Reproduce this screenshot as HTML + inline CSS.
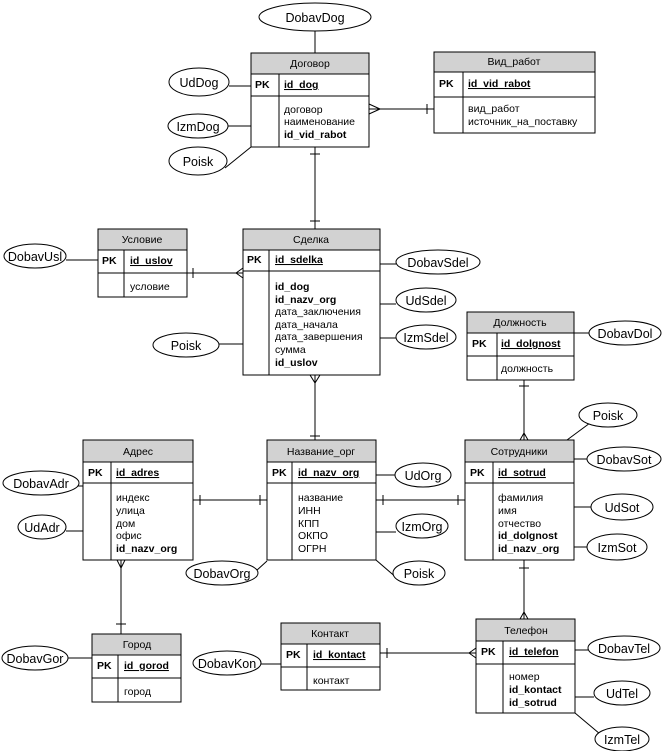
<!DOCTYPE html>
<html><head><meta charset="utf-8"><style>
html,body{margin:0;padding:0;background:#fff}
svg{display:block}
text{font-family:"Liberation Sans",sans-serif;font-size:10.5px;fill:#000}
.b{font-weight:bold}
.u{font-weight:bold;text-decoration:underline}
.h{text-anchor:middle;font-size:10.5px}
.e{text-anchor:middle;font-size:12.5px}
.ent rect{fill:#fff;stroke:#000;stroke-width:1}
.ent .hd{fill:#d2d2d2}
line,path,polyline{stroke:#000;stroke-width:1;fill:none}
ellipse{fill:#fff;stroke:#000;stroke-width:1}
</style></head><body>
<svg width="665" height="751" viewBox="0 0 665 751" xmlns="http://www.w3.org/2000/svg">
<line x1="315" y1="31" x2="315" y2="53"/>
<line x1="369" y1="109" x2="434" y2="109"/><polyline points="380,109 369,104"/><polyline points="380,109 369,114"/><line x1="427" y1="104" x2="427" y2="114"/>
<line x1="315" y1="147" x2="315" y2="229"/><line x1="310" y1="154" x2="320" y2="154"/><line x1="310" y1="221" x2="320" y2="221"/>
<line x1="187" y1="273" x2="243" y2="273"/><line x1="193" y1="268" x2="193" y2="278"/><polyline points="236,273 243,268"/><polyline points="236,273 243,278"/>
<line x1="315" y1="375" x2="315" y2="440"/><polyline points="315,383 310,375"/><polyline points="315,383 320,375"/><line x1="310" y1="436" x2="320" y2="436"/>
<line x1="524" y1="380" x2="524" y2="440"/><line x1="519" y1="386" x2="529" y2="386"/><polyline points="524,433 520,440"/><polyline points="524,433 528,440"/>
<line x1="193" y1="500" x2="267" y2="500"/><line x1="200" y1="495" x2="200" y2="505"/><line x1="260" y1="495" x2="260" y2="505"/>
<line x1="376" y1="500" x2="465" y2="500"/><line x1="383" y1="495" x2="383" y2="505"/><line x1="458" y1="495" x2="458" y2="505"/>
<line x1="121" y1="560" x2="121" y2="634"/><polyline points="121,568 117,560"/><polyline points="121,568 125,560"/><line x1="116" y1="624" x2="126" y2="624"/>
<line x1="524" y1="560" x2="524" y2="619"/><line x1="519" y1="568" x2="529" y2="568"/><polyline points="524,612 520,619"/><polyline points="524,612 528,619"/>
<line x1="380" y1="653" x2="476" y2="653"/><line x1="387" y1="648" x2="387" y2="658"/><polyline points="469,653 476,648"/><polyline points="469,653 476,658"/>
<line x1="229" y1="86" x2="251" y2="86"/>
<line x1="228" y1="126" x2="251" y2="126"/>
<line x1="225" y1="168" x2="251" y2="147"/>
<line x1="66" y1="260" x2="98" y2="260"/>
<line x1="380" y1="264" x2="396" y2="264"/>
<line x1="380" y1="304" x2="396" y2="304"/>
<line x1="380" y1="338" x2="396" y2="338"/>
<line x1="219" y1="344" x2="247" y2="344"/>
<line x1="574" y1="333" x2="589" y2="333"/>
<line x1="567" y1="440" x2="590" y2="423"/>
<line x1="574" y1="459" x2="587" y2="459"/>
<line x1="574" y1="507" x2="591" y2="507"/>
<line x1="574" y1="547" x2="587" y2="547"/>
<line x1="62" y1="486" x2="88" y2="486"/>
<line x1="66" y1="531" x2="90" y2="531"/>
<line x1="376" y1="475" x2="395" y2="475"/>
<line x1="376" y1="532" x2="396" y2="532"/>
<line x1="256" y1="571" x2="267" y2="561"/>
<line x1="376" y1="560" x2="398" y2="579"/>
<line x1="68" y1="658" x2="92" y2="658"/>
<line x1="261" y1="664" x2="281" y2="664"/>
<line x1="575" y1="650" x2="588" y2="650"/>
<line x1="575" y1="697" x2="594" y2="697"/>
<line x1="575" y1="713" x2="600" y2="734"/>
<g class="ent">
<rect x="251" y="53" width="118" height="94"/><rect class="hd" x="251" y="53" width="118" height="21"/><line x1="251" y1="96" x2="369" y2="96"/><line x1="279" y1="74" x2="279" y2="147"/>
<text class="h" x="310" y="67">Договор</text><text class="b" x="255" y="88">PK</text><text class="u" x="284" y="88">id_dog</text>
<text x="284" y="113">договор</text><text x="284" y="125">наименование</text><text class="b" x="284" y="138">id_vid_rabot</text>
<rect x="434" y="52" width="161" height="81"/><rect class="hd" x="434" y="52" width="161" height="20"/><line x1="434" y1="97" x2="595" y2="97"/><line x1="463" y1="72" x2="463" y2="133"/>
<text class="h" x="514" y="65">Вид_работ</text><text class="b" x="439" y="87">PK</text><text class="u" x="468" y="87">id_vid_rabot</text>
<text x="468" y="112">вид_работ</text><text x="468" y="125">источник_на_поставку</text>
<rect x="98" y="229" width="89" height="68"/><rect class="hd" x="98" y="229" width="89" height="21"/><line x1="98" y1="273" x2="187" y2="273"/><line x1="124" y1="250" x2="124" y2="297"/>
<text class="h" x="142" y="243">Условие</text><text class="b" x="102" y="264">PK</text><text class="u" x="130" y="264">id_uslov</text>
<text x="130" y="290">условие</text>
<rect x="243" y="229" width="137" height="146"/><rect class="hd" x="243" y="229" width="137" height="21"/><line x1="243" y1="271" x2="380" y2="271"/><line x1="269" y1="250" x2="269" y2="375"/>
<text class="h" x="311" y="243">Сделка</text><text class="b" x="247" y="263">PK</text><text class="u" x="275" y="263">id_sdelka</text>
<text class="b" x="275" y="290">id_dog</text><text class="b" x="275" y="303">id_nazv_org</text><text x="275" y="315">дата_заключения</text><text x="275" y="328">дата_начала</text><text x="275" y="340">дата_завершения</text><text x="275" y="353">сумма</text><text class="b" x="275" y="366">id_uslov</text>
<rect x="467" y="312" width="107" height="68"/><rect class="hd" x="467" y="312" width="107" height="21"/><line x1="467" y1="356" x2="574" y2="356"/><line x1="497" y1="333" x2="497" y2="380"/>
<text class="h" x="520" y="326">Должность</text><text class="b" x="472" y="347">PK</text><text class="u" x="501" y="347">id_dolgnost</text>
<text x="501" y="372">должность</text>
<rect x="83" y="440" width="110" height="120"/><rect class="hd" x="83" y="440" width="110" height="22"/><line x1="83" y1="483" x2="193" y2="483"/><line x1="111" y1="462" x2="111" y2="560"/>
<text class="h" x="138" y="455">Адрес</text><text class="b" x="88" y="476">PK</text><text class="u" x="116" y="476">id_adres</text>
<text x="116" y="501">индекс</text><text x="116" y="514">улица</text><text x="116" y="527">дом</text><text x="116" y="539">офис</text><text class="b" x="116" y="552">id_nazv_org</text>
<rect x="267" y="440" width="109" height="120"/><rect class="hd" x="267" y="440" width="109" height="22"/><line x1="267" y1="483" x2="376" y2="483"/><line x1="292" y1="462" x2="292" y2="560"/>
<text class="h" x="321" y="455">Название_орг</text><text class="b" x="272" y="476">PK</text><text class="u" x="298" y="476">id_nazv_org</text>
<text x="298" y="501">название</text><text x="298" y="514">ИНН</text><text x="298" y="527">КПП</text><text x="298" y="539">ОКПО</text><text x="298" y="552">ОГРН</text>
<rect x="465" y="440" width="109" height="120"/><rect class="hd" x="465" y="440" width="109" height="22"/><line x1="465" y1="483" x2="574" y2="483"/><line x1="493" y1="462" x2="493" y2="560"/>
<text class="h" x="519" y="455">Сотрудники</text><text class="b" x="470" y="476">PK</text><text class="u" x="498" y="476">id_sotrud</text>
<text x="498" y="501">фамилия</text><text x="498" y="514">имя</text><text x="498" y="527">отчество</text><text class="b" x="498" y="539">id_dolgnost</text><text class="b" x="498" y="552">id_nazv_org</text>
<rect x="92" y="634" width="89" height="68"/><rect class="hd" x="92" y="634" width="89" height="21"/><line x1="92" y1="678" x2="181" y2="678"/><line x1="118" y1="655" x2="118" y2="702"/>
<text class="h" x="137" y="648">Город</text><text class="b" x="97" y="669">PK</text><text class="u" x="124" y="669">id_gorod</text>
<text x="124" y="695">город</text>
<rect x="281" y="623" width="99" height="67"/><rect class="hd" x="281" y="623" width="99" height="21"/><line x1="281" y1="667" x2="380" y2="667"/><line x1="307" y1="644" x2="307" y2="690"/>
<text class="h" x="330" y="637">Контакт</text><text class="b" x="286" y="658">PK</text><text class="u" x="313" y="658">id_kontact</text>
<text x="313" y="684">контакт</text>
<rect x="476" y="619" width="99" height="94"/><rect class="hd" x="476" y="619" width="99" height="22"/><line x1="476" y1="664" x2="575" y2="664"/><line x1="503" y1="641" x2="503" y2="713"/>
<text class="h" x="526" y="634">Телефон</text><text class="b" x="481" y="655">PK</text><text class="u" x="509" y="655">id_telefon</text>
<text x="509" y="680">номер</text><text class="b" x="509" y="693">id_kontact</text><text class="b" x="509" y="706">id_sotrud</text>
</g>
<ellipse cx="315" cy="17" rx="56" ry="14"/><text class="e" x="315" y="22">DobavDog</text>
<ellipse cx="199" cy="82" rx="30" ry="14"/><text class="e" x="199" y="87">UdDog</text>
<ellipse cx="198" cy="126" rx="30" ry="12"/><text class="e" x="198" y="131">IzmDog</text>
<ellipse cx="198" cy="161" rx="29" ry="14"/><text class="e" x="198" y="166">Poisk</text>
<ellipse cx="35" cy="256" rx="31" ry="12"/><text class="e" x="35" y="261">DobavUsl</text>
<ellipse cx="438" cy="262" rx="42" ry="12"/><text class="e" x="438" y="267">DobavSdel</text>
<ellipse cx="426" cy="300" rx="30" ry="12"/><text class="e" x="426" y="305">UdSdel</text>
<ellipse cx="426" cy="337" rx="30" ry="12"/><text class="e" x="426" y="342">IzmSdel</text>
<ellipse cx="186" cy="345" rx="33" ry="12"/><text class="e" x="186" y="350">Poisk</text>
<ellipse cx="625" cy="333" rx="36" ry="12"/><text class="e" x="625" y="338">DobavDol</text>
<ellipse cx="608" cy="415" rx="29" ry="12"/><text class="e" x="608" y="420">Poisk</text>
<ellipse cx="624" cy="459" rx="37" ry="12"/><text class="e" x="624" y="464">DobavSot</text>
<ellipse cx="622" cy="507" rx="31" ry="13"/><text class="e" x="622" y="512">UdSot</text>
<ellipse cx="617" cy="547" rx="30" ry="13"/><text class="e" x="617" y="552">IzmSot</text>
<ellipse cx="41" cy="483" rx="38" ry="12"/><text class="e" x="41" y="488">DobavAdr</text>
<ellipse cx="42" cy="527" rx="24" ry="12"/><text class="e" x="42" y="532">UdAdr</text>
<ellipse cx="423" cy="475" rx="28" ry="12"/><text class="e" x="423" y="480">UdOrg</text>
<ellipse cx="422" cy="526" rx="26" ry="12"/><text class="e" x="422" y="531">IzmOrg</text>
<ellipse cx="222" cy="573" rx="36" ry="12"/><text class="e" x="222" y="578">DobavOrg</text>
<ellipse cx="419" cy="573" rx="26" ry="12"/><text class="e" x="419" y="578">Poisk</text>
<ellipse cx="35" cy="658" rx="33" ry="12"/><text class="e" x="35" y="663">DobavGor</text>
<ellipse cx="227" cy="663" rx="34" ry="12"/><text class="e" x="227" y="668">DobavKon</text>
<ellipse cx="624" cy="648" rx="36" ry="12"/><text class="e" x="624" y="653">DobavTel</text>
<ellipse cx="622" cy="693" rx="28" ry="12"/><text class="e" x="622" y="698">UdTel</text>
<ellipse cx="622" cy="739" rx="27" ry="12"/><text class="e" x="622" y="744">IzmTel</text>
</svg>
</body></html>
